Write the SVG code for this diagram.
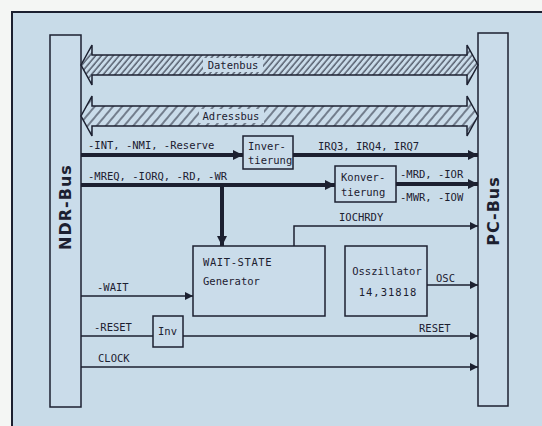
<svg xmlns="http://www.w3.org/2000/svg" width="542" height="426" viewBox="0 0 542 426">
<defs>
<style>
.t{font-family:"DejaVu Sans Mono","Liberation Mono",monospace;font-size:10.5px;fill:#1c2030;}
.b{font-family:"DejaVu Sans","Liberation Sans",sans-serif;font-size:16px;font-weight:bold;fill:#1c2030;letter-spacing:1px;}
.box{fill:#cadcea;stroke:#1c2030;stroke-width:1.5;}
.thin{fill:none;stroke:#1c2030;stroke-width:1.5;}
.thick{fill:none;stroke:#1c2030;stroke-width:4;}
</style>
<pattern id="h1" width="4.5" height="10" patternUnits="userSpaceOnUse" patternTransform="rotate(40)">
<rect width="4.5" height="10" fill="#cadcea"/>
<line x1="1" y1="0" x2="1" y2="10" stroke="#1c2030" stroke-width="1"/>
</pattern>
<pattern id="h2" width="7" height="10" patternUnits="userSpaceOnUse" patternTransform="rotate(40)">
<rect width="7" height="10" fill="#cadcea"/>
<line x1="1" y1="0" x2="1" y2="10" stroke="#1c2030" stroke-width="1"/>
</pattern>
<marker id="ah" viewBox="0 0 10 10" refX="10" refY="5" markerWidth="10" markerHeight="8" markerUnits="userSpaceOnUse" orient="auto">
<path d="M0,0 L10,5 L0,10 z" fill="#1c2030"/>
</marker>
<marker id="ahb" viewBox="0 0 10 10" refX="10" refY="5" markerWidth="14" markerHeight="10" markerUnits="userSpaceOnUse" orient="auto">
<path d="M0,0 L10,5 L0,10 z" fill="#1c2030"/>
</marker>
</defs>
<rect x="0" y="0" width="542" height="426" fill="#f4f6f4"/>
<rect x="12" y="12" width="536" height="420" fill="#c8dbe8" stroke="#1c2030" stroke-width="2"/>

<g id="ndr-bus">
<rect class="box" x="50" y="35" width="31" height="372"/>
<text class="b" transform="translate(71,207) rotate(-90)" text-anchor="middle">NDR-Bus</text>
</g>
<g id="pc-bus">
<rect class="box" x="478" y="33" width="30" height="373"/>
<text class="b" transform="translate(499,211) rotate(-90)" text-anchor="middle">PC-Bus</text>
</g>

<g id="datenbus">
<polygon points="81,65 92,45 92,55 467,55 467,45 478,65 467,85 467,75 92,75 92,85" fill="url(#h1)" stroke="#1c2030" stroke-width="1.5"/>
<rect x="203" y="58" width="60" height="14" fill="#cadcea"/>
<text class="t" x="233" y="69" text-anchor="middle" font-size="11">Datenbus</text>
</g>
<g id="adressbus">
<polygon points="81,116 92,96 92,106 467,106 467,96 478,116 467,136 467,126 92,126 92,136" fill="url(#h2)" stroke="#1c2030" stroke-width="1.5"/>
<rect x="199" y="109" width="65" height="14" fill="#cadcea"/>
<text class="t" x="231" y="120" text-anchor="middle" font-size="11">Adressbus</text>
</g>

<g id="inverterung">
<rect class="box" x="243" y="136" width="50" height="33"/>
<text class="t" x="248" y="150">Inver-</text>
<text class="t" x="248" y="164">tierung</text>
</g>
<g id="konvertierung">
<rect class="box" x="335" y="166" width="61" height="36"/>
<text class="t" x="341" y="181">Konver-</text>
<text class="t" x="341" y="196">tierung</text>
</g>
<g id="wait-state">
<rect class="box" x="193" y="246" width="132" height="70"/>
<text class="t" x="203" y="266" font-size="12" letter-spacing="0.6">WAIT-STATE</text>
<text class="t" x="203" y="285" font-size="11.5">Generator</text>
</g>
<g id="oszillator">
<rect class="box" x="345" y="246" width="82" height="70"/>
<text class="t" x="387" y="275" text-anchor="middle">Osszillator</text>
<text class="t" x="388" y="296" text-anchor="middle" font-size="12" letter-spacing="1">14,31818</text>
</g>
<g id="inv">
<rect class="box" x="153" y="316" width="30" height="31"/>
<text class="t" x="158" y="335">Inv</text>
</g>

<g id="connectors">
<line class="thick" x1="81" y1="155" x2="243" y2="155" marker-end="url(#ahb)"/>
<line class="thick" x1="293" y1="155" x2="478" y2="155" marker-end="url(#ahb)"/>
<line class="thick" x1="81" y1="185" x2="335" y2="185" marker-end="url(#ahb)"/>
<line class="thick" x1="222" y1="185" x2="222" y2="246" marker-end="url(#ahb)"/>
<line class="thick" x1="396" y1="184" x2="478" y2="184" marker-end="url(#ahb)"/>
<polyline class="thin" points="294,246 294,226 478,226" marker-end="url(#ah)"/>
<line class="thin" x1="427" y1="285" x2="478" y2="285" marker-end="url(#ah)"/>
<line class="thin" x1="81" y1="296" x2="193" y2="296" marker-end="url(#ah)"/>
<line class="thin" x1="81" y1="336" x2="153" y2="336"/>
<line class="thin" x1="183" y1="336" x2="478" y2="336" marker-end="url(#ah)"/>
<line class="thin" x1="81" y1="367" x2="478" y2="367" marker-end="url(#ah)"/>
<text class="t" x="88" y="149">-INT, -NMI, -Reserve</text>
<text class="t" x="318" y="150">IRQ3, IRQ4, IRQ7</text>
<text class="t" x="88" y="180">-MREQ, -IORQ, -RD, -WR</text>
<text class="t" x="400" y="178">-MRD, -IOR</text>
<text class="t" x="400" y="201">-MWR, -IOW</text>
<text class="t" x="339" y="221">IOCHRDY</text>
<text class="t" x="436" y="282">OSC</text>
<text class="t" x="97" y="291">-WAIT</text>
<text class="t" x="94" y="331">-RESET</text>
<text class="t" x="419" y="332">RESET</text>
<text class="t" x="98" y="362">CLOCK</text>
</g>
</svg>
